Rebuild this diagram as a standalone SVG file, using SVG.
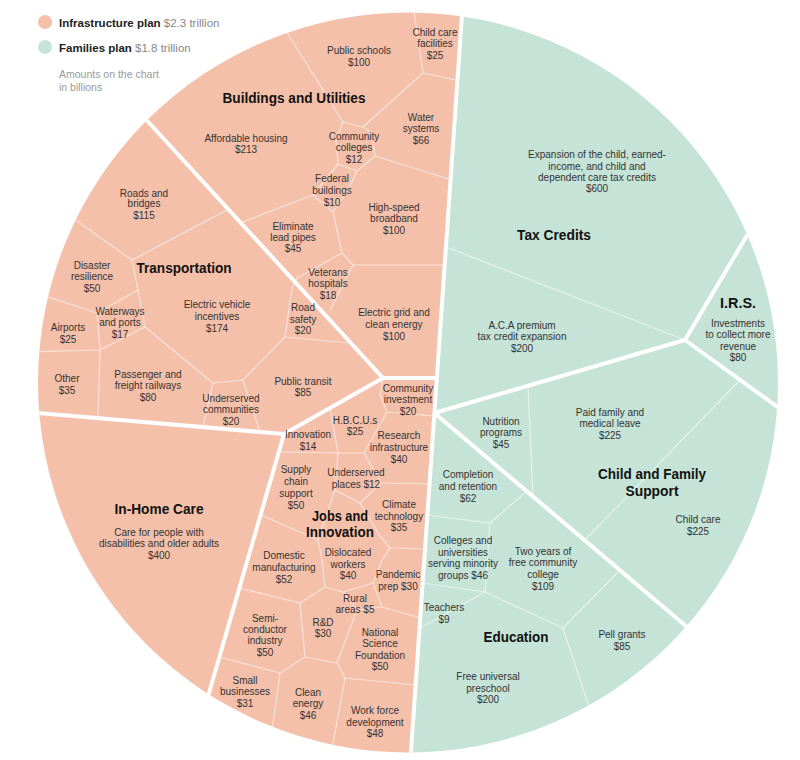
<svg xmlns="http://www.w3.org/2000/svg" width="800" height="760" viewBox="0 0 800 760">
<defs>
<clipPath id="disc"><circle cx="408" cy="382.5" r="370"/></clipPath>
</defs>
<style>
.lbl{font-family:"Liberation Sans",Arial,sans-serif;font-size:10px;fill:#333;text-anchor:middle}
.ttl{font-family:"Liberation Sans",Arial,sans-serif;font-size:14px;font-weight:bold;fill:#111;text-anchor:middle}
.leg{font-family:"Liberation Sans",Arial,sans-serif;font-size:11.5px;fill:#222}
.legv{font-weight:normal;fill:#888}
.note{font-family:"Liberation Sans",Arial,sans-serif;font-size:10.5px;fill:#999}
.thin{fill:none;stroke:#fff;stroke-opacity:.55;stroke-width:1.2;stroke-linejoin:round}
.thick{fill:none;stroke:#fff;stroke-width:4}
.inf{fill:#F5C0AA}
.fam{fill:#C5E3D7}
</style>
<rect width="800" height="760" fill="#fff"/>

<g id="legend">
<circle class="inf" cx="45" cy="22" r="7"/>
<text class="leg" x="59" y="27" font-weight="bold">Infrastructure plan<tspan class="legv"> $2.3 trillion</tspan></text>
<circle class="fam" cx="45" cy="47" r="7"/>
<text class="leg" x="59" y="52" font-weight="bold">Families plan<tspan class="legv"> $1.8 trillion</tspan></text>
<text class="note" x="59" y="78">Amounts on the chart</text>
<text class="note" x="59" y="91">in billions</text>
</g>

<g id="chart" clip-path="url(#disc)">
<polygon class="inf" points="0,0 463,0 410.4,760 0,760"/>
<polygon class="fam" points="463,0 800,0 800,760 410.4,760"/>

<g id="cell-lines" class="thin">
<!-- Buildings and Utilities -->
<path d="M276,15 L343,122"/>
<path d="M343,122 L363,127 L423,73"/>
<path d="M423,73 L413,5"/>
<path d="M423,73 L456,80"/>
<path d="M343,122 L336,140 L338,164 L357,171 L375,156 L372,133 L363,127"/>
<path d="M375,156 L452,180"/>
<path d="M338,164 L313,195 L333,212 L348,190 L357,171"/>
<path d="M313,195 L240,223"/>
<path d="M333,212 L342,253"/>
<path d="M342,253 L353,265 L446,265"/>
<path d="M342,253 L297,278 L292,288 L285,337"/>
<path d="M353,265 L330,310"/>
<path d="M285,337 L350,343"/>
<!-- Transportation -->
<path d="M60,209 L132,260 L229,209"/>
<path d="M132,260 L138,290 L97,313 L30,291"/>
<path d="M97,313 L100,350 L25,352"/>
<path d="M100,350 L98,418"/>
<path d="M100,350 L145,327 L138,290"/>
<path d="M145,327 L213,383 L203,427"/>
<path d="M213,383 L243,380 L260,432"/>
<path d="M243,380 L285,337"/>
<!-- Jobs and Innovation -->
<path d="M383,378 L380,395 L387,412 L434,416"/>
<path d="M387,412 L364,453"/>
<path d="M330,408 L338,453"/>
<path d="M279,452 L338,453 L364,453 L381,483 L432,484"/>
<path d="M338,453 L335,490 L318,540"/>
<path d="M335,490 L360,503 L381,483"/>
<path d="M360,503 L380,536 L390,548 L428,549"/>
<path d="M261,515 L318,540 L322,560 L325,587"/>
<path d="M390,548 L382,560 L373,583"/>
<path d="M325,587 L343,592 L373,583 L382,607 L421,618"/>
<path d="M343,592 L357,610 L382,607"/>
<path d="M239,588 L300,603 L325,587"/>
<path d="M300,603 L305,657 L337,663 L357,610"/>
<path d="M337,663 L345,678 L416,685"/>
<path d="M219,657 L280,673 L305,657"/>
<path d="M280,673 L270,745"/>
<path d="M345,678 L330,760"/>
<!-- Tax Credits -->
<path d="M446,247 L685,340"/>
<!-- Child and Family Support -->
<path d="M528,386 L533,496"/>
<path d="M740,380 L585,540"/>
<!-- Education -->
<path d="M427,515 L490,523 L527,491"/>
<path d="M490,523 L485,592 L563,628 L620,570"/>
<path d="M423,583 L485,592 L420,628"/>
<path d="M563,628 L592,716"/>
</g>

<g id="group-lines" class="thick">
<path d="M463,0 L410.4,760"/>
<path d="M130,102 L383,378 L437.5,378"/>
<path d="M383,378 L284,434 L25,412"/>
<path d="M284,434 L200,724"/>
<path d="M434.4,413 L685,340 L762,210"/>
<path d="M685,340 L790,416"/>
<path d="M434.4,413 L700,638"/>
</g>
</g>

<g id="buildings-and-utilities">
<text class="ttl" x="294" y="103" textLength="143" lengthAdjust="spacingAndGlyphs">Buildings and Utilities</text>
<g id="public-schools"><text class="lbl"><tspan x="359" y="53.5">Public schools</tspan><tspan x="359" y="65.5">$100</tspan></text></g>
<g id="child-care-facilities"><text class="lbl"><tspan x="435" y="35.5">Child care</tspan><tspan x="435" y="47">facilities</tspan><tspan x="435" y="58.5">$25</tspan></text></g>
<g id="affordable-housing"><text class="lbl"><tspan x="246" y="141.5">Affordable housing</tspan><tspan x="246" y="153">$213</tspan></text></g>
<g id="community-colleges"><text class="lbl"><tspan x="354" y="139.5">Community</tspan><tspan x="354" y="151">colleges</tspan><tspan x="354" y="163">$12</tspan></text></g>
<g id="water-systems"><text class="lbl"><tspan x="421" y="120.5">Water</tspan><tspan x="421" y="132">systems</tspan><tspan x="421" y="143.5">$66</tspan></text></g>
<g id="federal-buildings"><text class="lbl"><tspan x="332" y="181.5">Federal</tspan><tspan x="332" y="193.5">buildings</tspan><tspan x="332" y="205.5">$10</tspan></text></g>
<g id="broadband"><text class="lbl"><tspan x="394" y="210.5">High-speed</tspan><tspan x="394" y="221.5">broadband</tspan><tspan x="394" y="233.5">$100</tspan></text></g>
<g id="lead-pipes"><text class="lbl"><tspan x="293" y="229.5">Eliminate</tspan><tspan x="293" y="240.5">lead pipes</tspan><tspan x="293" y="251.5">$45</tspan></text></g>
<g id="veterans-hospitals"><text class="lbl"><tspan x="328" y="275.5">Veterans</tspan><tspan x="328" y="286.5">hospitals</tspan><tspan x="328" y="298.5">$18</tspan></text></g>
<g id="electric-grid"><text class="lbl"><tspan x="394" y="315.5">Electric grid and</tspan><tspan x="394" y="327.5">clean energy</tspan><tspan x="394" y="339.5">$100</tspan></text></g>
</g>

<g id="transportation">
<text class="ttl" x="184" y="273" textLength="95" lengthAdjust="spacingAndGlyphs">Transportation</text>
<g id="roads-bridges"><text class="lbl"><tspan x="144" y="196.5">Roads and</tspan><tspan x="144" y="207">bridges</tspan><tspan x="144" y="218.5">$115</tspan></text></g>
<g id="disaster-resilience"><text class="lbl"><tspan x="92" y="268.5">Disaster</tspan><tspan x="92" y="279.5">resilience</tspan><tspan x="92" y="291.5">$50</tspan></text></g>
<g id="ev-incentives"><text class="lbl"><tspan x="217" y="307.5">Electric vehicle</tspan><tspan x="217" y="319.5">incentives</tspan><tspan x="217" y="331.5">$174</tspan></text></g>
<g id="road-safety"><text class="lbl"><tspan x="303" y="311">Road</tspan><tspan x="303" y="322.5">safety</tspan><tspan x="303" y="334">$20</tspan></text></g>
<g id="waterways"><text class="lbl"><tspan x="120" y="314.5">Waterways</tspan><tspan x="120" y="326">and ports</tspan><tspan x="120" y="337.5">$17</tspan></text></g>
<g id="airports"><text class="lbl"><tspan x="68" y="330.5">Airports</tspan><tspan x="68" y="342.5">$25</tspan></text></g>
<g id="other"><text class="lbl"><tspan x="67" y="381.5">Other</tspan><tspan x="67" y="393.5">$35</tspan></text></g>
<g id="railways"><text class="lbl"><tspan x="148" y="377.5">Passenger and</tspan><tspan x="148" y="389">freight railways</tspan><tspan x="148" y="401">$80</tspan></text></g>
<g id="public-transit"><text class="lbl"><tspan x="303" y="384.5">Public transit</tspan><tspan x="303" y="396">$85</tspan></text></g>
<g id="underserved-communities"><text class="lbl"><tspan x="231" y="401.5">Underserved</tspan><tspan x="231" y="412.5">communities</tspan><tspan x="231" y="425">$20</tspan></text></g>
</g>

<g id="in-home-care">
<text class="ttl" x="159" y="514" textLength="89" lengthAdjust="spacingAndGlyphs">In-Home Care</text>
<text class="lbl"><tspan x="159" y="535.5">Care for people with</tspan><tspan x="159" y="546.5">disabilities and older adults</tspan><tspan x="159" y="558.5">$400</tspan></text>
</g>

<g id="jobs-and-innovation">
<text class="ttl" x="340" y="521" textLength="56" lengthAdjust="spacingAndGlyphs">Jobs and</text>
<text class="ttl" x="340" y="537" textLength="68" lengthAdjust="spacingAndGlyphs">Innovation</text>
<g id="community-investment"><text class="lbl"><tspan x="408" y="391.5">Community</tspan><tspan x="408" y="403">investment</tspan><tspan x="408" y="414.5">$20</tspan></text></g>
<g id="hbcus"><text class="lbl"><tspan x="355" y="423.5">H.B.C.U.s</tspan><tspan x="355" y="434.5">$25</tspan></text></g>
<g id="innovation"><text class="lbl"><tspan x="308" y="437.5">Innovation</tspan><tspan x="308" y="449.5">$14</tspan></text></g>
<g id="research-infrastructure"><text class="lbl"><tspan x="399" y="438.5">Research</tspan><tspan x="399" y="450.5">infrastructure</tspan><tspan x="399" y="462.5">$40</tspan></text></g>
<g id="supply-chain"><text class="lbl"><tspan x="296" y="472.5">Supply</tspan><tspan x="296" y="484.5">chain</tspan><tspan x="296" y="496.5">support</tspan><tspan x="296" y="508.5">$50</tspan></text></g>
<g id="underserved-places"><text class="lbl"><tspan x="356" y="475.5">Underserved</tspan><tspan x="356" y="487.5">places $12</tspan></text></g>
<g id="climate-technology"><text class="lbl"><tspan x="399" y="507.5">Climate</tspan><tspan x="399" y="519.5">technology</tspan><tspan x="399" y="530.5">$35</tspan></text></g>
<g id="domestic-manufacturing"><text class="lbl"><tspan x="284" y="558.5">Domestic</tspan><tspan x="284" y="570.5">manufacturing</tspan><tspan x="284" y="582.5">$52</tspan></text></g>
<g id="dislocated-workers"><text class="lbl"><tspan x="348" y="555.5">Dislocated</tspan><tspan x="348" y="567.5">workers</tspan><tspan x="348" y="578.5">$40</tspan></text></g>
<g id="pandemic-prep"><text class="lbl"><tspan x="398" y="577.5">Pandemic</tspan><tspan x="398" y="590">prep $30</tspan></text></g>
<g id="rural-areas"><text class="lbl"><tspan x="355" y="601.5">Rural</tspan><tspan x="355" y="613">areas $5</tspan></text></g>
<g id="semiconductor"><text class="lbl"><tspan x="265" y="621.5">Semi-</tspan><tspan x="265" y="632.5">conductor</tspan><tspan x="265" y="644">industry</tspan><tspan x="265" y="655.5">$50</tspan></text></g>
<g id="r-and-d"><text class="lbl"><tspan x="323" y="625.5">R&amp;D</tspan><tspan x="323" y="637">$30</tspan></text></g>
<g id="nsf"><text class="lbl"><tspan x="380" y="635.5">National</tspan><tspan x="380" y="647">Science</tspan><tspan x="380" y="658.5">Foundation</tspan><tspan x="380" y="670">$50</tspan></text></g>
<g id="small-businesses"><text class="lbl"><tspan x="245" y="683.5">Small</tspan><tspan x="245" y="694.5">businesses</tspan><tspan x="245" y="706.5">$31</tspan></text></g>
<g id="clean-energy"><text class="lbl"><tspan x="308" y="695.5">Clean</tspan><tspan x="308" y="706.5">energy</tspan><tspan x="308" y="718.5">$46</tspan></text></g>
<g id="workforce"><text class="lbl"><tspan x="375" y="713.5">Work force</tspan><tspan x="375" y="725.5">development</tspan><tspan x="375" y="736.5">$48</tspan></text></g>
</g>

<g id="tax-credits">
<text class="ttl" x="554" y="240" textLength="74" lengthAdjust="spacingAndGlyphs">Tax Credits</text>
<g id="credit-expansion"><text class="lbl"><tspan x="597" y="157.5">Expansion of the child, earned-</tspan><tspan x="597" y="169.5">income, and child and</tspan><tspan x="597" y="180.5">dependent care tax credits</tspan><tspan x="597" y="191.5">$600</tspan></text></g>
<g id="aca-premium"><text class="lbl"><tspan x="522" y="328.5">A.C.A premium</tspan><tspan x="522" y="340">tax credit expansion</tspan><tspan x="522" y="351.5">$200</tspan></text></g>
</g>

<g id="irs">
<text class="ttl" x="738" y="308" textLength="36" lengthAdjust="spacingAndGlyphs">I.R.S.</text>
<text class="lbl"><tspan x="738" y="326.5">Investments</tspan><tspan x="738" y="338">to collect more</tspan><tspan x="738" y="349.5">revenue</tspan><tspan x="738" y="361">$80</tspan></text>
</g>

<g id="child-and-family-support">
<text class="ttl" x="652" y="479" textLength="108" lengthAdjust="spacingAndGlyphs">Child and Family</text>
<text class="ttl" x="652" y="496" textLength="53" lengthAdjust="spacingAndGlyphs">Support</text>
<g id="nutrition"><text class="lbl"><tspan x="501" y="424.5">Nutrition</tspan><tspan x="501" y="435.5">programs</tspan><tspan x="501" y="447.5">$45</tspan></text></g>
<g id="paid-leave"><text class="lbl"><tspan x="610" y="415.5">Paid family and</tspan><tspan x="610" y="426.5">medical leave</tspan><tspan x="610" y="438.5">$225</tspan></text></g>
<g id="child-care"><text class="lbl"><tspan x="698" y="522.5">Child care</tspan><tspan x="698" y="534.5">$225</tspan></text></g>
</g>

<g id="education">
<text class="ttl" x="516" y="642" textLength="65" lengthAdjust="spacingAndGlyphs">Education</text>
<g id="completion"><text class="lbl"><tspan x="468" y="477.5">Completion</tspan><tspan x="468" y="489.5">and retention</tspan><tspan x="468" y="501.5">$62</tspan></text></g>
<g id="minority-colleges"><text class="lbl"><tspan x="463" y="543.5">Colleges and</tspan><tspan x="463" y="555.5">universities</tspan><tspan x="463" y="566.5">serving minority</tspan><tspan x="463" y="578.5">groups $46</tspan></text></g>
<g id="community-college"><text class="lbl"><tspan x="543" y="554.5">Two years of</tspan><tspan x="543" y="565.5">free community</tspan><tspan x="543" y="577.5">college</tspan><tspan x="543" y="590">$109</tspan></text></g>
<g id="teachers"><text class="lbl"><tspan x="444" y="610.5">Teachers</tspan><tspan x="444" y="622.5">$9</tspan></text></g>
<g id="pell-grants"><text class="lbl"><tspan x="622" y="637.5">Pell grants</tspan><tspan x="622" y="649.5">$85</tspan></text></g>
<g id="preschool"><text class="lbl"><tspan x="488" y="679.5">Free universal</tspan><tspan x="488" y="691.5">preschool</tspan><tspan x="488" y="702.5">$200</tspan></text></g>
</g>
</svg>
